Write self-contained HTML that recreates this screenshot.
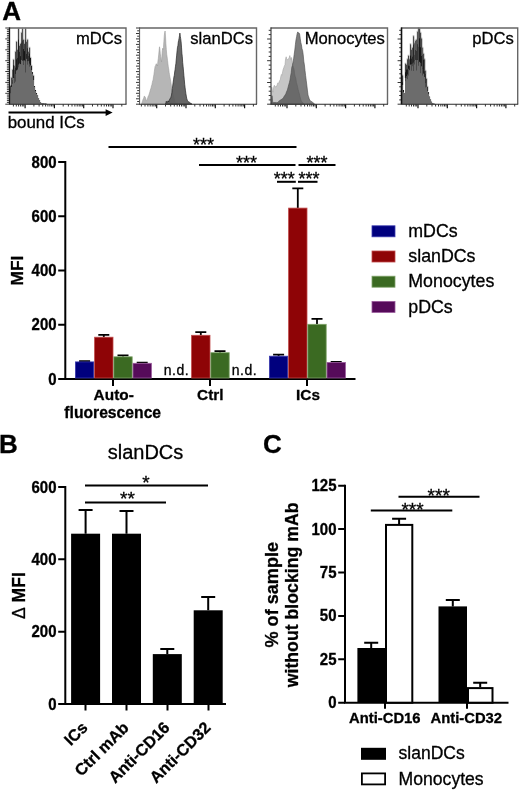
<!DOCTYPE html>
<html><head><meta charset="utf-8"><title>Figure</title>
<style>
html,body{margin:0;padding:0;background:#fff;}
body{width:520px;height:790px;overflow:hidden;}
svg{display:block;filter:blur(0.4px);}
svg text{font-family:"Liberation Sans",sans-serif;fill:#000;stroke:#000;stroke-width:0.3px;}
</style></head><body>
<svg width="520" height="790" viewBox="0 0 520 790">
<defs><filter id="b1" x="-5%" y="-5%" width="110%" height="110%"><feGaussianBlur stdDeviation="0.3"/></filter></defs>
<rect x="0" y="0" width="520" height="790" fill="#fff"/>
<path d="M25.1,104.2v4.0M54.4,104.2v4.0M83.7,104.2v4.0M113.0,104.2v4.0" stroke="#111" stroke-width="1.2" fill="none"/>
<path d="M13.4,104.2v2.3M16.3,104.2v2.3M18.6,104.2v2.3M20.6,104.2v2.3M22.3,104.2v2.3M23.8,104.2v2.3M33.9,104.2v2.3M39.1,104.2v2.3M42.7,104.2v2.3M45.6,104.2v2.3M47.9,104.2v2.3M49.9,104.2v2.3M51.6,104.2v2.3M53.1,104.2v2.3M63.2,104.2v2.3M68.4,104.2v2.3M72.0,104.2v2.3M74.9,104.2v2.3M77.2,104.2v2.3M79.2,104.2v2.3M80.9,104.2v2.3M82.4,104.2v2.3M92.5,104.2v2.3M97.7,104.2v2.3M101.3,104.2v2.3M104.2,104.2v2.3M106.5,104.2v2.3M108.5,104.2v2.3M110.2,104.2v2.3M111.7,104.2v2.3M121.8,104.2v2.3" stroke="#333" stroke-width="1.0" fill="none"/>
<path d="M9.5,104.2h-4.2M9.5,102.4h-2.6M9.5,100.6h-2.6M9.5,98.8h-2.6M9.5,96.9h-2.6M9.5,95.1h-2.6M9.5,93.3h-4.2M9.5,91.5h-2.6M9.5,89.7h-2.6M9.5,87.9h-2.6M9.5,86.1h-2.6M9.5,84.2h-2.6M9.5,82.4h-4.2M9.5,80.6h-2.6M9.5,78.8h-2.6M9.5,77.0h-2.6M9.5,75.2h-2.6M9.5,73.4h-2.6M9.5,71.5h-4.2M9.5,69.7h-2.6M9.5,67.9h-2.6M9.5,66.1h-2.6M9.5,64.3h-2.6M9.5,62.5h-2.6M9.5,60.7h-4.2M9.5,58.9h-2.6M9.5,57.0h-2.6M9.5,55.2h-2.6M9.5,53.4h-2.6M9.5,51.6h-2.6M9.5,49.8h-4.2M9.5,48.0h-2.6M9.5,46.2h-2.6M9.5,44.3h-2.6M9.5,42.5h-2.6M9.5,40.7h-2.6M9.5,38.9h-4.2M9.5,37.1h-2.6M9.5,35.3h-2.6M9.5,33.5h-2.6M9.5,31.6h-2.6M9.5,29.8h-2.6M9.5,28.0h-4.2" stroke="#2a2a2a" stroke-width="0.95" fill="none"/>
<path d="M156.7,104.2v4.0M186.0,104.2v4.0M215.3,104.2v4.0M244.6,104.2v4.0" stroke="#111" stroke-width="1.2" fill="none"/>
<path d="M141.4,104.2v2.3M145.0,104.2v2.3M147.9,104.2v2.3M150.2,104.2v2.3M152.2,104.2v2.3M153.9,104.2v2.3M155.4,104.2v2.3M165.5,104.2v2.3M170.7,104.2v2.3M174.3,104.2v2.3M177.2,104.2v2.3M179.5,104.2v2.3M181.5,104.2v2.3M183.2,104.2v2.3M184.7,104.2v2.3M194.8,104.2v2.3M200.0,104.2v2.3M203.6,104.2v2.3M206.5,104.2v2.3M208.8,104.2v2.3M210.8,104.2v2.3M212.5,104.2v2.3M214.0,104.2v2.3M224.1,104.2v2.3M229.3,104.2v2.3M232.9,104.2v2.3M235.8,104.2v2.3M238.1,104.2v2.3M240.1,104.2v2.3M241.8,104.2v2.3M243.3,104.2v2.3M253.4,104.2v2.3" stroke="#333" stroke-width="1.0" fill="none"/>
<path d="M139.6,104.2h-3.6M139.6,101.5h-2.4M139.6,98.8h-3.6M139.6,96.0h-2.4M139.6,93.3h-3.6M139.6,90.6h-2.4M139.6,87.9h-3.6M139.6,85.2h-2.4M139.6,82.4h-3.6M139.6,79.7h-2.4M139.6,77.0h-3.6M139.6,74.3h-2.4M139.6,71.6h-3.6M139.6,68.8h-2.4M139.6,66.1h-3.6M139.6,63.4h-2.4M139.6,60.7h-3.6M139.6,58.0h-2.4M139.6,55.2h-3.6M139.6,52.5h-2.4M139.6,49.8h-3.6M139.6,47.1h-2.4M139.6,44.4h-3.6M139.6,41.6h-2.4M139.6,38.9h-3.6M139.6,36.2h-2.4M139.6,33.5h-3.6M139.6,30.8h-2.4M139.6,28.0h-3.6" stroke="#2a2a2a" stroke-width="0.95" fill="none"/>
<path d="M287.0,104.2v4.0M316.3,104.2v4.0M345.6,104.2v4.0M374.9,104.2v4.0" stroke="#111" stroke-width="1.2" fill="none"/>
<path d="M275.3,104.2v2.3M278.2,104.2v2.3M280.5,104.2v2.3M282.5,104.2v2.3M284.2,104.2v2.3M285.7,104.2v2.3M295.8,104.2v2.3M301.0,104.2v2.3M304.6,104.2v2.3M307.5,104.2v2.3M309.8,104.2v2.3M311.8,104.2v2.3M313.5,104.2v2.3M315.0,104.2v2.3M325.1,104.2v2.3M330.3,104.2v2.3M333.9,104.2v2.3M336.8,104.2v2.3M339.1,104.2v2.3M341.1,104.2v2.3M342.8,104.2v2.3M344.3,104.2v2.3M354.4,104.2v2.3M359.6,104.2v2.3M363.2,104.2v2.3M366.1,104.2v2.3M368.4,104.2v2.3M370.4,104.2v2.3M372.1,104.2v2.3M373.6,104.2v2.3M383.7,104.2v2.3" stroke="#333" stroke-width="1.0" fill="none"/>
<path d="M271.0,104.2h-3.9M271.0,99.9h-2.3M271.0,95.5h-2.3M271.0,91.2h-2.3M271.0,86.8h-2.3M271.0,82.5h-3.9M271.0,78.1h-2.3M271.0,73.8h-2.3M271.0,69.4h-2.3M271.0,65.1h-2.3M271.0,60.7h-3.9M271.0,56.4h-2.3M271.0,52.0h-2.3M271.0,47.7h-2.3M271.0,43.3h-2.3M271.0,39.0h-3.9M271.0,34.6h-2.3M271.0,30.3h-2.3" stroke="#2a2a2a" stroke-width="0.95" fill="none"/>
<path d="M418.0,104.2v4.0M447.3,104.2v4.0M476.6,104.2v4.0M505.9,104.2v4.0" stroke="#111" stroke-width="1.2" fill="none"/>
<path d="M406.3,104.2v2.3M409.2,104.2v2.3M411.5,104.2v2.3M413.5,104.2v2.3M415.2,104.2v2.3M416.7,104.2v2.3M426.8,104.2v2.3M432.0,104.2v2.3M435.6,104.2v2.3M438.5,104.2v2.3M440.8,104.2v2.3M442.8,104.2v2.3M444.5,104.2v2.3M446.0,104.2v2.3M456.1,104.2v2.3M461.3,104.2v2.3M464.9,104.2v2.3M467.8,104.2v2.3M470.1,104.2v2.3M472.1,104.2v2.3M473.8,104.2v2.3M475.3,104.2v2.3M485.4,104.2v2.3M490.6,104.2v2.3M494.2,104.2v2.3M497.1,104.2v2.3M499.4,104.2v2.3M501.4,104.2v2.3M503.1,104.2v2.3M504.6,104.2v2.3M514.7,104.2v2.3" stroke="#333" stroke-width="1.0" fill="none"/>
<path d="M401.5,104.2h-3.9M401.5,99.9h-2.3M401.5,95.5h-2.3M401.5,91.2h-2.3M401.5,86.8h-2.3M401.5,82.5h-3.9M401.5,78.1h-2.3M401.5,73.8h-2.3M401.5,69.4h-2.3M401.5,65.1h-2.3M401.5,60.7h-3.9M401.5,56.4h-2.3M401.5,52.0h-2.3M401.5,47.7h-2.3M401.5,43.3h-2.3M401.5,39.0h-3.9M401.5,34.6h-2.3M401.5,30.3h-2.3" stroke="#2a2a2a" stroke-width="0.95" fill="none"/>
<g filter="url(#b1)">
<rect x="9.7" y="84.8" width="1.6" height="8.2" fill="#a6a6a6"/>
<rect x="10.7" y="76.8" width="1.6" height="11.2" fill="#a6a6a6"/>
<rect x="11.7" y="68.8" width="1.6" height="15.2" fill="#a6a6a6"/>
<rect x="12.7" y="58.8" width="1.6" height="20.2" fill="#a6a6a6"/>
<rect x="13.7" y="64.8" width="1.6" height="12.2" fill="#a6a6a6"/>
<rect x="14.7" y="50.8" width="1.6" height="23.2" fill="#a6a6a6"/>
<rect x="15.7" y="40.8" width="1.6" height="30.2" fill="#a6a6a6"/>
<rect x="16.7" y="48.8" width="1.6" height="20.2" fill="#a6a6a6"/>
<rect x="17.7" y="27.8" width="1.6" height="38.2" fill="#a6a6a6"/>
<rect x="18.7" y="44.8" width="1.6" height="19.2" fill="#a6a6a6"/>
<rect x="19.7" y="42.8" width="1.6" height="20.2" fill="#a6a6a6"/>
<rect x="20.7" y="31.8" width="1.6" height="29.2" fill="#a6a6a6"/>
<rect x="21.7" y="27.8" width="1.6" height="32.2" fill="#a6a6a6"/>
<rect x="22.7" y="38.8" width="1.6" height="20.7" fill="#a6a6a6"/>
<rect x="23.7" y="42.8" width="1.6" height="16.7" fill="#a6a6a6"/>
<rect x="24.7" y="27.8" width="1.6" height="32.2" fill="#a6a6a6"/>
<rect x="25.7" y="40.8" width="1.6" height="19.2" fill="#a6a6a6"/>
<rect x="26.7" y="38.8" width="1.6" height="21.2" fill="#a6a6a6"/>
<rect x="27.7" y="50.8" width="1.6" height="10.2" fill="#a6a6a6"/>
<rect x="28.7" y="46.8" width="1.6" height="16.2" fill="#a6a6a6"/>
<rect x="29.7" y="56.8" width="1.6" height="9.2" fill="#a6a6a6"/>
<rect x="30.7" y="64.8" width="1.6" height="5.2" fill="#a6a6a6"/>
<rect x="32.7" y="74.8" width="1.6" height="5.2" fill="#a6a6a6"/>
<rect x="10.0" y="86.0" width="1.05" height="18.2" fill="#444444"/>
<rect x="11.0" y="78.0" width="1.05" height="26.2" fill="#262626"/>
<rect x="11.6" y="78.0" width="0.5" height="7.0" fill="#8a8a8a"/>
<rect x="12.0" y="70.0" width="1.05" height="34.2" fill="#444444"/>
<rect x="12.6" y="70.0" width="0.5" height="10.0" fill="#8a8a8a"/>
<rect x="13.0" y="60.0" width="1.05" height="44.2" fill="#1e1e1e"/>
<rect x="13.6" y="60.0" width="0.5" height="5.2" fill="#8a8a8a"/>
<rect x="14.0" y="66.0" width="1.05" height="38.2" fill="#444444"/>
<rect x="14.6" y="66.0" width="0.5" height="3.9" fill="#8a8a8a"/>
<rect x="15.0" y="52.0" width="1.05" height="52.2" fill="#262626"/>
<rect x="15.6" y="52.0" width="0.5" height="15.6" fill="#8a8a8a"/>
<rect x="16.0" y="42.0" width="1.05" height="62.2" fill="#1e1e1e"/>
<rect x="16.6" y="42.0" width="0.5" height="17.3" fill="#8a8a8a"/>
<rect x="17.0" y="50.0" width="1.05" height="54.2" fill="#262626"/>
<rect x="17.6" y="50.0" width="0.5" height="7.9" fill="#8a8a8a"/>
<rect x="18.0" y="29.0" width="1.05" height="75.2" fill="#1e1e1e"/>
<rect x="18.6" y="29.0" width="0.5" height="10.6" fill="#8a8a8a"/>
<rect x="19.0" y="46.0" width="1.05" height="58.2" fill="#262626"/>
<rect x="19.6" y="46.0" width="0.5" height="5.9" fill="#8a8a8a"/>
<rect x="20.0" y="44.0" width="1.05" height="60.2" fill="#1e1e1e"/>
<rect x="20.6" y="44.0" width="0.5" height="12.1" fill="#8a8a8a"/>
<rect x="21.0" y="33.0" width="1.05" height="71.2" fill="#343434"/>
<rect x="21.6" y="33.0" width="0.5" height="9.7" fill="#8a8a8a"/>
<rect x="22.0" y="29.0" width="1.05" height="75.2" fill="#343434"/>
<rect x="22.6" y="29.0" width="0.5" height="11.5" fill="#8a8a8a"/>
<rect x="23.0" y="40.0" width="1.05" height="64.2" fill="#1e1e1e"/>
<rect x="23.6" y="40.0" width="0.5" height="9.0" fill="#8a8a8a"/>
<rect x="24.0" y="44.0" width="1.05" height="60.2" fill="#161616"/>
<rect x="24.6" y="44.0" width="0.5" height="7.2" fill="#8a8a8a"/>
<rect x="25.0" y="29.0" width="1.05" height="75.2" fill="#343434"/>
<rect x="25.6" y="29.0" width="0.5" height="11.0" fill="#8a8a8a"/>
<rect x="26.0" y="42.0" width="1.05" height="62.2" fill="#2c2c2c"/>
<rect x="26.6" y="42.0" width="0.5" height="11.9" fill="#8a8a8a"/>
<rect x="27.0" y="40.0" width="1.05" height="64.2" fill="#2c2c2c"/>
<rect x="27.6" y="40.0" width="0.5" height="8.3" fill="#8a8a8a"/>
<rect x="28.0" y="52.0" width="1.05" height="52.2" fill="#343434"/>
<rect x="28.6" y="52.0" width="0.5" height="4.0" fill="#8a8a8a"/>
<rect x="29.0" y="48.0" width="1.05" height="56.2" fill="#1e1e1e"/>
<rect x="29.6" y="48.0" width="0.5" height="5.5" fill="#8a8a8a"/>
<rect x="30.0" y="58.0" width="1.05" height="46.2" fill="#161616"/>
<rect x="31.0" y="66.0" width="1.05" height="38.2" fill="#1e1e1e"/>
<rect x="32.0" y="72.0" width="1.05" height="32.2" fill="#2c2c2c"/>
<rect x="33.0" y="76.0" width="1.05" height="28.2" fill="#2c2c2c"/>
<rect x="34.0" y="86.0" width="1.05" height="18.2" fill="#1e1e1e"/>
<rect x="35.0" y="90.0" width="1.05" height="14.2" fill="#161616"/>
<rect x="36.0" y="93.0" width="1.05" height="11.2" fill="#1e1e1e"/>
<rect x="37.0" y="95.0" width="1.05" height="9.2" fill="#262626"/>
<rect x="38.0" y="98.0" width="1.05" height="6.2" fill="#444444"/>
<rect x="39.0" y="100.0" width="1.05" height="4.2" fill="#161616"/>
<rect x="40.0" y="102.0" width="1.05" height="2.2" fill="#343434"/>
<rect x="41.0" y="103.0" width="1.05" height="1.2" fill="#161616"/>
<rect x="42.0" y="103.4" width="1.05" height="0.8" fill="#343434"/>
<rect x="43.0" y="103.4" width="1.05" height="0.8" fill="#2c2c2c"/>
<rect x="44.0" y="103.6" width="1.05" height="0.6" fill="#343434"/>
<rect x="45.0" y="103.6" width="1.05" height="0.6" fill="#161616"/>
<rect x="46.0" y="103.8" width="1.05" height="0.4" fill="#343434"/>
<rect x="10.0" y="93.2" width="1.05" height="11.0" fill="#6c6c6c"/>
<rect x="11.0" y="87.0" width="1.05" height="17.2" fill="#6c6c6c"/>
<rect x="12.0" y="82.6" width="1.05" height="21.6" fill="#6c6c6c"/>
<rect x="12.2" y="82.1" width="0.7" height="1.9" fill="#222" fill-opacity="0.6"/>
<rect x="13.0" y="78.0" width="1.05" height="26.2" fill="#6c6c6c"/>
<rect x="14.0" y="77.7" width="1.05" height="26.5" fill="#6c6c6c"/>
<rect x="14.2" y="77.2" width="0.7" height="5.9" fill="#222" fill-opacity="0.6"/>
<rect x="15.0" y="73.9" width="1.05" height="30.3" fill="#6c6c6c"/>
<rect x="15.2" y="73.4" width="0.7" height="8.2" fill="#222" fill-opacity="0.6"/>
<rect x="16.0" y="70.4" width="1.05" height="33.8" fill="#6c6c6c"/>
<rect x="17.0" y="69.6" width="1.05" height="34.6" fill="#6c6c6c"/>
<rect x="18.0" y="64.5" width="1.05" height="39.7" fill="#6c6c6c"/>
<rect x="18.2" y="64.0" width="0.7" height="3.3" fill="#222" fill-opacity="0.6"/>
<rect x="19.0" y="63.5" width="1.05" height="40.7" fill="#6c6c6c"/>
<rect x="20.0" y="64.1" width="1.05" height="40.1" fill="#6c6c6c"/>
<rect x="21.0" y="59.9" width="1.05" height="44.3" fill="#6c6c6c"/>
<rect x="22.0" y="60.8" width="1.05" height="43.4" fill="#6c6c6c"/>
<rect x="23.0" y="60.4" width="1.05" height="43.8" fill="#6c6c6c"/>
<rect x="23.2" y="59.9" width="0.7" height="5.1" fill="#222" fill-opacity="0.6"/>
<rect x="24.0" y="60.4" width="1.05" height="43.8" fill="#6c6c6c"/>
<rect x="25.0" y="61.2" width="1.05" height="43.0" fill="#6c6c6c"/>
<rect x="25.2" y="60.7" width="0.7" height="11.8" fill="#222" fill-opacity="0.6"/>
<rect x="26.0" y="58.9" width="1.05" height="45.3" fill="#6c6c6c"/>
<rect x="27.0" y="61.2" width="1.05" height="43.0" fill="#6c6c6c"/>
<rect x="27.2" y="60.7" width="0.7" height="3.9" fill="#222" fill-opacity="0.6"/>
<rect x="28.0" y="61.1" width="1.05" height="43.1" fill="#6c6c6c"/>
<rect x="29.0" y="63.6" width="1.05" height="40.6" fill="#6c6c6c"/>
<rect x="29.2" y="63.1" width="0.7" height="3.6" fill="#222" fill-opacity="0.6"/>
<rect x="30.0" y="65.3" width="1.05" height="38.9" fill="#6c6c6c"/>
<rect x="31.0" y="70.0" width="1.05" height="34.2" fill="#6c6c6c"/>
<rect x="32.0" y="74.0" width="1.05" height="30.2" fill="#6c6c6c"/>
<rect x="33.0" y="80.0" width="1.05" height="24.2" fill="#6c6c6c"/>
<rect x="34.0" y="87.0" width="1.05" height="17.2" fill="#6c6c6c"/>
<rect x="35.0" y="91.0" width="1.05" height="13.2" fill="#6c6c6c"/>
<rect x="36.0" y="94.0" width="1.05" height="10.2" fill="#6c6c6c"/>
<rect x="37.0" y="95.0" width="1.05" height="9.2" fill="#6c6c6c"/>
<rect x="38.0" y="98.0" width="1.05" height="6.2" fill="#6c6c6c"/>
<rect x="39.0" y="100.0" width="1.05" height="4.2" fill="#6c6c6c"/>
<rect x="40.0" y="102.0" width="1.05" height="2.2" fill="#6c6c6c"/>
<rect x="41.0" y="103.0" width="1.05" height="1.2" fill="#6c6c6c"/>
<rect x="42.0" y="103.4" width="1.05" height="0.8" fill="#6c6c6c"/>
<rect x="43.0" y="103.4" width="1.05" height="0.8" fill="#6c6c6c"/>
<rect x="44.0" y="103.6" width="1.05" height="0.6" fill="#6c6c6c"/>
<rect x="45.0" y="103.6" width="1.05" height="0.6" fill="#6c6c6c"/>
<rect x="46.0" y="103.8" width="1.05" height="0.4" fill="#6c6c6c"/>
</g>
<path d="M141.5,104.2 L141.5,104.2 L141.9,102.9 L142.3,101.7 L142.7,100.4 L143.1,99.2 L143.5,98.5 L143.9,97.4 L144.3,96.1 L144.7,96.4 L145.1,97.0 L145.5,97.7 L145.9,99.2 L146.3,100.7 L146.7,100.5 L147.1,99.8 L147.5,98.4 L147.9,97.3 L148.3,96.1 L148.7,95.6 L149.1,94.2 L149.5,93.1 L149.9,91.8 L150.3,90.1 L150.7,89.1 L151.1,87.8 L151.5,85.8 L151.9,84.9 L152.3,82.7 L152.7,80.9 L153.1,80.0 L153.5,76.7 L153.9,74.9 L154.3,71.6 L154.7,68.9 L155.1,66.4 L155.5,65.9 L155.9,64.7 L156.3,63.7 L156.7,65.3 L157.1,64.8 L157.5,66.0 L157.9,61.4 L158.3,58.8 L158.7,54.9 L159.1,50.8 L159.5,46.8 L159.9,49.0 L160.3,53.9 L160.7,56.9 L161.1,59.5 L161.5,62.0 L161.9,56.3 L162.3,50.7 L162.7,48.3 L163.1,49.6 L163.5,47.4 L163.9,41.3 L164.3,35.5 L164.7,32.4 L165.1,31.0 L165.5,36.2 L165.9,43.8 L166.3,49.4 L166.7,54.2 L167.1,57.0 L167.5,60.3 L167.9,63.6 L168.3,66.9 L168.7,69.0 L169.1,72.4 L169.5,74.8 L169.9,77.1 L170.3,78.9 L170.7,81.3 L171.1,84.0 L171.5,87.0 L171.9,88.7 L172.3,91.0 L172.7,92.8 L173.1,94.4 L173.5,95.7 L173.9,97.6 L174.3,98.9 L174.7,100.0 L175.1,101.6 L175.5,102.7 L175.9,103.0 L176.3,103.5 L176.7,103.9 L176.7,104.2 Z" fill="#b6b6b6" stroke="#9c9c9c" stroke-width="0.6"/>
<path d="M165.5,104.2 L165.5,104.2 L165.9,102.8 L166.3,101.2 L166.7,102.4 L167.1,102.8 L167.5,101.9 L167.9,100.9 L168.3,101.0 L168.7,102.0 L169.1,100.7 L169.5,99.7 L169.9,98.7 L170.3,98.7 L170.7,98.0 L171.1,96.4 L171.5,95.1 L171.9,92.5 L172.3,88.6 L172.7,86.0 L173.1,82.8 L173.5,79.9 L173.9,77.1 L174.3,75.3 L174.7,72.0 L175.1,69.5 L175.5,66.2 L175.9,63.5 L176.3,59.0 L176.7,55.1 L177.1,50.8 L177.5,47.2 L177.9,45.8 L178.3,42.0 L178.7,40.3 L179.1,38.2 L179.5,35.6 L179.9,33.1 L180.3,36.3 L180.7,38.7 L181.1,41.9 L181.5,47.1 L181.9,53.2 L182.3,56.8 L182.7,62.7 L183.1,66.6 L183.5,71.1 L183.9,75.5 L184.3,79.9 L184.7,84.3 L185.1,87.8 L185.5,90.9 L185.9,93.7 L186.3,96.1 L186.7,98.3 L187.1,99.5 L187.5,100.6 L187.9,101.5 L188.3,101.7 L188.7,101.7 L189.1,102.4 L189.5,102.3 L189.9,102.6 L190.3,102.9 L190.7,103.1 L191.1,103.5 L191.5,103.8 L191.9,104.1 L191.9,104.2 Z" fill="#5a5a5a" fill-opacity="0.93" stroke="#262626" stroke-width="0.7"/>
<path d="M271.2,104.2 L271.2,104.2 L271.8,87.2 L272.4,90.8 L273.0,92.2 L273.6,87.6 L274.2,85.3 L274.8,85.8 L275.4,87.2 L276.0,86.3 L276.6,86.3 L277.2,85.0 L277.8,82.9 L278.4,83.2 L279.0,82.4 L279.6,80.6 L280.2,80.4 L280.8,76.5 L281.4,74.5 L282.0,75.2 L282.6,71.9 L283.2,69.3 L283.8,67.7 L284.4,65.9 L285.0,64.7 L285.6,58.7 L286.2,56.8 L286.8,59.5 L287.4,59.6 L288.0,59.3 L288.6,58.8 L289.2,57.8 L289.8,55.6 L290.4,58.1 L291.0,59.8 L291.6,57.5 L292.2,61.8 L292.8,65.3 L293.4,67.5 L294.0,69.1 L294.6,73.9 L295.2,76.6 L295.8,78.2 L296.4,82.3 L297.0,84.4 L297.6,86.9 L298.2,89.7 L298.8,91.9 L299.4,94.1 L300.0,96.6 L300.6,99.0 L301.2,100.8 L301.8,101.7 L302.4,102.5 L303.0,102.8 L303.6,103.6 L303.6,104.2 Z" fill="#c6c6c6" stroke="#a4a4a4" stroke-width="0.6"/>
<path d="M271.4,104.2 L271.4,104.2 L272.0,95.7 L272.6,101.4 L273.2,102.8 L273.8,102.5 L274.4,102.6 L275.0,102.2 L275.6,102.5 L276.2,102.7 L276.8,102.5 L277.4,102.6 L278.0,102.2 L278.6,101.4 L279.2,100.7 L279.8,100.9 L280.4,100.0 L281.0,99.4 L281.6,99.4 L282.2,98.9 L282.8,98.3 L283.4,97.9 L284.0,96.6 L284.6,95.8 L285.2,94.6 L285.8,94.2 L286.4,92.1 L287.0,90.9 L287.6,89.2 L288.2,86.9 L288.8,84.5 L289.4,82.5 L290.0,79.9 L290.6,75.9 L291.2,72.9 L291.8,67.3 L292.4,65.6 L293.0,62.4 L293.6,58.9 L294.2,54.3 L294.8,50.0 L295.4,44.6 L296.0,39.8 L296.6,36.7 L297.2,33.4 L297.8,31.9 L298.4,33.1 L299.0,32.9 L299.6,34.0 L300.2,38.3 L300.8,42.5 L301.4,44.7 L302.0,48.8 L302.6,50.5 L303.2,54.7 L303.8,61.2 L304.4,64.9 L305.0,70.5 L305.6,75.6 L306.2,80.3 L306.8,85.1 L307.4,90.1 L308.0,95.1 L308.6,96.7 L309.2,98.8 L309.8,100.1 L310.4,100.9 L311.0,101.3 L311.6,101.6 L312.2,102.0 L312.8,102.5 L313.4,103.0 L314.0,103.5 L314.6,104.0 L314.6,104.2 Z" fill="#3a3a3a" fill-opacity="0.66" stroke="#4a4a4a" stroke-width="0.6"/>
<g filter="url(#b1)">
<rect x="401.7" y="74.6" width="1.6" height="10.4" fill="#a6a6a6"/>
<rect x="404.7" y="62.8" width="1.6" height="15.2" fill="#a6a6a6"/>
<rect x="405.7" y="63.8" width="1.6" height="12.2" fill="#a6a6a6"/>
<rect x="406.7" y="58.4" width="1.6" height="14.6" fill="#a6a6a6"/>
<rect x="407.7" y="54.8" width="1.6" height="15.2" fill="#a6a6a6"/>
<rect x="408.7" y="58.4" width="1.6" height="10.6" fill="#a6a6a6"/>
<rect x="409.7" y="43.4" width="1.6" height="22.6" fill="#a6a6a6"/>
<rect x="410.7" y="48.8" width="1.6" height="16.2" fill="#a6a6a6"/>
<rect x="411.7" y="46.8" width="1.6" height="16.2" fill="#a6a6a6"/>
<rect x="412.7" y="35.3" width="1.6" height="26.7" fill="#a6a6a6"/>
<rect x="413.7" y="42.3" width="1.6" height="19.7" fill="#a6a6a6"/>
<rect x="414.7" y="39.8" width="1.6" height="21.2" fill="#a6a6a6"/>
<rect x="415.7" y="38.8" width="1.6" height="22.2" fill="#a6a6a6"/>
<rect x="416.7" y="30.8" width="1.6" height="30.2" fill="#a6a6a6"/>
<rect x="417.7" y="27.4" width="1.6" height="34.6" fill="#a6a6a6"/>
<rect x="418.7" y="27.8" width="1.6" height="35.2" fill="#a6a6a6"/>
<rect x="419.7" y="31.8" width="1.6" height="32.2" fill="#a6a6a6"/>
<rect x="420.7" y="37.6" width="1.6" height="28.4" fill="#a6a6a6"/>
<rect x="421.7" y="46.8" width="1.6" height="22.2" fill="#a6a6a6"/>
<rect x="422.7" y="52.8" width="1.6" height="20.2" fill="#a6a6a6"/>
<rect x="423.7" y="58.4" width="1.6" height="18.6" fill="#a6a6a6"/>
<rect x="424.7" y="69.8" width="1.6" height="12.2" fill="#a6a6a6"/>
<rect x="425.7" y="77.8" width="1.6" height="9.2" fill="#a6a6a6"/>
<rect x="426.7" y="85.8" width="1.6" height="5.2" fill="#a6a6a6"/>
<rect x="402.0" y="75.8" width="1.05" height="28.4" fill="#161616"/>
<rect x="402.6" y="75.8" width="0.5" height="6.6" fill="#8a8a8a"/>
<rect x="403.0" y="90.0" width="1.05" height="14.2" fill="#161616"/>
<rect x="404.0" y="93.0" width="1.05" height="11.2" fill="#444444"/>
<rect x="405.0" y="64.0" width="1.05" height="40.2" fill="#161616"/>
<rect x="405.6" y="64.0" width="0.5" height="8.3" fill="#8a8a8a"/>
<rect x="406.0" y="65.0" width="1.05" height="39.2" fill="#161616"/>
<rect x="406.6" y="65.0" width="0.5" height="4.6" fill="#8a8a8a"/>
<rect x="407.0" y="59.6" width="1.05" height="44.6" fill="#1e1e1e"/>
<rect x="407.6" y="59.6" width="0.5" height="9.8" fill="#8a8a8a"/>
<rect x="408.0" y="56.0" width="1.05" height="48.2" fill="#161616"/>
<rect x="408.6" y="56.0" width="0.5" height="9.7" fill="#8a8a8a"/>
<rect x="409.0" y="59.6" width="1.05" height="44.6" fill="#2c2c2c"/>
<rect x="409.6" y="59.6" width="0.5" height="6.3" fill="#8a8a8a"/>
<rect x="410.0" y="44.6" width="1.05" height="59.6" fill="#161616"/>
<rect x="410.6" y="44.6" width="0.5" height="11.0" fill="#8a8a8a"/>
<rect x="411.0" y="50.0" width="1.05" height="54.2" fill="#262626"/>
<rect x="411.6" y="50.0" width="0.5" height="8.7" fill="#8a8a8a"/>
<rect x="412.0" y="48.0" width="1.05" height="56.2" fill="#2c2c2c"/>
<rect x="412.6" y="48.0" width="0.5" height="8.7" fill="#8a8a8a"/>
<rect x="413.0" y="36.5" width="1.05" height="67.7" fill="#262626"/>
<rect x="413.6" y="36.5" width="0.5" height="8.2" fill="#8a8a8a"/>
<rect x="414.0" y="43.5" width="1.05" height="60.7" fill="#444444"/>
<rect x="414.6" y="43.5" width="0.5" height="11.4" fill="#8a8a8a"/>
<rect x="415.0" y="41.0" width="1.05" height="63.2" fill="#343434"/>
<rect x="415.6" y="41.0" width="0.5" height="9.1" fill="#8a8a8a"/>
<rect x="416.0" y="40.0" width="1.05" height="64.2" fill="#343434"/>
<rect x="416.6" y="40.0" width="0.5" height="11.1" fill="#8a8a8a"/>
<rect x="417.0" y="32.0" width="1.05" height="72.2" fill="#343434"/>
<rect x="417.6" y="32.0" width="0.5" height="12.2" fill="#8a8a8a"/>
<rect x="418.0" y="28.6" width="1.05" height="75.6" fill="#444444"/>
<rect x="418.6" y="28.6" width="0.5" height="18.2" fill="#8a8a8a"/>
<rect x="419.0" y="29.0" width="1.05" height="75.2" fill="#161616"/>
<rect x="419.6" y="29.0" width="0.5" height="9.4" fill="#8a8a8a"/>
<rect x="420.0" y="33.0" width="1.05" height="71.2" fill="#161616"/>
<rect x="420.6" y="33.0" width="0.5" height="14.3" fill="#8a8a8a"/>
<rect x="421.0" y="38.8" width="1.05" height="65.4" fill="#1e1e1e"/>
<rect x="421.6" y="38.8" width="0.5" height="17.2" fill="#8a8a8a"/>
<rect x="422.0" y="48.0" width="1.05" height="56.2" fill="#444444"/>
<rect x="422.6" y="48.0" width="0.5" height="7.0" fill="#8a8a8a"/>
<rect x="423.0" y="54.0" width="1.05" height="50.2" fill="#1e1e1e"/>
<rect x="423.6" y="54.0" width="0.5" height="5.8" fill="#8a8a8a"/>
<rect x="424.0" y="59.6" width="1.05" height="44.6" fill="#262626"/>
<rect x="424.6" y="59.6" width="0.5" height="11.6" fill="#8a8a8a"/>
<rect x="425.0" y="71.0" width="1.05" height="33.2" fill="#343434"/>
<rect x="425.6" y="71.0" width="0.5" height="2.9" fill="#8a8a8a"/>
<rect x="426.0" y="79.0" width="1.05" height="25.2" fill="#444444"/>
<rect x="427.0" y="87.0" width="1.05" height="17.2" fill="#343434"/>
<rect x="428.0" y="92.0" width="1.05" height="12.2" fill="#343434"/>
<rect x="429.0" y="96.5" width="1.05" height="7.7" fill="#2c2c2c"/>
<rect x="430.0" y="99.4" width="1.05" height="4.8" fill="#343434"/>
<rect x="431.0" y="101.7" width="1.05" height="2.5" fill="#2c2c2c"/>
<rect x="432.0" y="103.3" width="1.05" height="0.9" fill="#262626"/>
<rect x="433.0" y="103.6" width="1.05" height="0.6" fill="#1e1e1e"/>
<rect x="434.0" y="103.8" width="1.05" height="0.4" fill="#262626"/>
<rect x="402.0" y="84.9" width="1.05" height="19.3" fill="#6c6c6c"/>
<rect x="403.0" y="92.0" width="1.05" height="12.2" fill="#6c6c6c"/>
<rect x="404.0" y="93.0" width="1.05" height="11.2" fill="#6c6c6c"/>
<rect x="405.0" y="77.8" width="1.05" height="26.4" fill="#6c6c6c"/>
<rect x="405.2" y="77.3" width="0.7" height="3.8" fill="#222" fill-opacity="0.6"/>
<rect x="406.0" y="76.1" width="1.05" height="28.1" fill="#6c6c6c"/>
<rect x="406.2" y="75.6" width="0.7" height="2.6" fill="#222" fill-opacity="0.6"/>
<rect x="407.0" y="74.5" width="1.05" height="29.7" fill="#6c6c6c"/>
<rect x="407.2" y="74.0" width="0.7" height="5.1" fill="#222" fill-opacity="0.6"/>
<rect x="408.0" y="68.8" width="1.05" height="35.4" fill="#6c6c6c"/>
<rect x="408.2" y="68.3" width="0.7" height="7.3" fill="#222" fill-opacity="0.6"/>
<rect x="409.0" y="70.2" width="1.05" height="34.0" fill="#6c6c6c"/>
<rect x="410.0" y="64.6" width="1.05" height="39.6" fill="#6c6c6c"/>
<rect x="411.0" y="64.3" width="1.05" height="39.9" fill="#6c6c6c"/>
<rect x="411.2" y="63.8" width="0.7" height="6.9" fill="#222" fill-opacity="0.6"/>
<rect x="412.0" y="63.5" width="1.05" height="40.7" fill="#6c6c6c"/>
<rect x="412.2" y="63.0" width="0.7" height="3.2" fill="#222" fill-opacity="0.6"/>
<rect x="413.0" y="62.6" width="1.05" height="41.6" fill="#6c6c6c"/>
<rect x="413.2" y="62.1" width="0.7" height="8.9" fill="#222" fill-opacity="0.6"/>
<rect x="414.0" y="60.8" width="1.05" height="43.4" fill="#6c6c6c"/>
<rect x="414.2" y="60.3" width="0.7" height="4.2" fill="#222" fill-opacity="0.6"/>
<rect x="415.0" y="59.9" width="1.05" height="44.3" fill="#6c6c6c"/>
<rect x="416.0" y="59.9" width="1.05" height="44.3" fill="#6c6c6c"/>
<rect x="416.2" y="59.4" width="0.7" height="11.1" fill="#222" fill-opacity="0.6"/>
<rect x="417.0" y="60.1" width="1.05" height="44.1" fill="#6c6c6c"/>
<rect x="418.0" y="62.5" width="1.05" height="41.7" fill="#6c6c6c"/>
<rect x="418.2" y="62.0" width="0.7" height="3.8" fill="#222" fill-opacity="0.6"/>
<rect x="419.0" y="61.8" width="1.05" height="42.4" fill="#6c6c6c"/>
<rect x="420.0" y="62.9" width="1.05" height="41.3" fill="#6c6c6c"/>
<rect x="420.2" y="62.4" width="0.7" height="10.7" fill="#222" fill-opacity="0.6"/>
<rect x="421.0" y="66.3" width="1.05" height="37.9" fill="#6c6c6c"/>
<rect x="422.0" y="68.9" width="1.05" height="35.3" fill="#6c6c6c"/>
<rect x="422.2" y="68.4" width="0.7" height="7.1" fill="#222" fill-opacity="0.6"/>
<rect x="423.0" y="73.6" width="1.05" height="30.6" fill="#6c6c6c"/>
<rect x="424.0" y="76.9" width="1.05" height="27.3" fill="#6c6c6c"/>
<rect x="425.0" y="83.1" width="1.05" height="21.1" fill="#6c6c6c"/>
<rect x="425.2" y="82.6" width="0.7" height="4.8" fill="#222" fill-opacity="0.6"/>
<rect x="426.0" y="86.8" width="1.05" height="17.4" fill="#6c6c6c"/>
<rect x="427.0" y="91.0" width="1.05" height="13.2" fill="#6c6c6c"/>
<rect x="428.0" y="94.0" width="1.05" height="10.2" fill="#6c6c6c"/>
<rect x="429.0" y="97.0" width="1.05" height="7.2" fill="#6c6c6c"/>
<rect x="430.0" y="99.6" width="1.05" height="4.6" fill="#6c6c6c"/>
<rect x="431.0" y="101.8" width="1.05" height="2.4" fill="#6c6c6c"/>
<rect x="432.0" y="103.3" width="1.05" height="0.9" fill="#6c6c6c"/>
<rect x="433.0" y="103.6" width="1.05" height="0.6" fill="#6c6c6c"/>
<rect x="434.0" y="103.8" width="1.05" height="0.4" fill="#6c6c6c"/>
</g>
<path d="M9.0,28.0 H126.0 V104.2" stroke="#666" stroke-width="1.4" fill="none"/>
<path d="M9.5,27.5 V104.2" stroke="#1a1a1a" stroke-width="1.3" fill="none"/>
<path d="M9.0,104.2 H126.5" stroke="#2a2a2a" stroke-width="1.1" fill="none"/>
<path d="M139.1,28.0 H256.5 V104.2" stroke="#666" stroke-width="1.4" fill="none"/>
<path d="M139.6,27.5 V104.2" stroke="#555" stroke-width="1.0" fill="none"/>
<path d="M139.1,104.2 H257.0" stroke="#2a2a2a" stroke-width="1.1" fill="none"/>
<path d="M270.5,28.0 H387.5 V104.2" stroke="#666" stroke-width="1.4" fill="none"/>
<path d="M271.0,27.5 V104.2" stroke="#333" stroke-width="1.1" fill="none"/>
<path d="M270.5,104.2 H388.0" stroke="#2a2a2a" stroke-width="1.1" fill="none"/>
<path d="M401.0,28.0 H517.7 V104.2" stroke="#666" stroke-width="1.4" fill="none"/>
<path d="M401.5,27.5 V104.2" stroke="#111" stroke-width="1.6" fill="none"/>
<path d="M401.0,104.2 H518.2" stroke="#2a2a2a" stroke-width="1.1" fill="none"/>
<text transform="translate(122.1 43.8) scale(1 1.030)" font-size="16.6" text-anchor="end">mDCs</text>
<text transform="translate(253.0 43.8) scale(1 1.030)" font-size="16.6" text-anchor="end">slanDCs</text>
<text transform="translate(384.9 43.8) scale(1 1.030)" font-size="16.6" text-anchor="end">Monocytes</text>
<text transform="translate(513.8 43.8) scale(1 1.030)" font-size="16.6" text-anchor="end">pDCs</text>
<text x="2.2" y="19.6" font-size="26.0" font-weight="bold" text-anchor="start" >A</text>
<path d="M8.5,112.6 H107" stroke="#000" stroke-width="2"/>
<path d="M105.6,109.3 L112.6,112.6 L105.6,115.9 Z" fill="#000"/>
<text x="7.7" y="128.0" font-size="16.9" font-weight="normal" text-anchor="start" >bound ICs</text>
<path d="M65.3,161.0 V379.0 H355.5" stroke="#000" stroke-width="2" fill="none"/>
<path d="M58.2,379.0H65.3M58.2,324.8H65.3M58.2,270.5H65.3M58.2,216.2H65.3M58.2,162.0H65.3M113,379.0v7M210,379.0v7M307,379.0v7" stroke="#000" stroke-width="2" fill="none"/>
<text transform="translate(56.6 384.7) scale(1 1.090)" font-size="15.0" font-weight="bold" text-anchor="end">0</text>
<text transform="translate(56.6 330.4) scale(1 1.090)" font-size="15.0" font-weight="bold" text-anchor="end">200</text>
<text transform="translate(56.6 276.2) scale(1 1.090)" font-size="15.0" font-weight="bold" text-anchor="end">400</text>
<text transform="translate(56.6 221.9) scale(1 1.090)" font-size="15.0" font-weight="bold" text-anchor="end">600</text>
<text transform="translate(56.6 167.7) scale(1 1.090)" font-size="15.0" font-weight="bold" text-anchor="end">800</text>
<text x="22.6" y="270.6" font-size="17.3" font-weight="bold" text-anchor="middle" transform="rotate(-90 22.6 270.6)">MFI</text>
<path d="M84.6,361.9V361.2 M79.1,361.2H90.1" stroke="#000" stroke-width="1.8" fill="none"/>
<rect x="75.4" y="361.9" width="18.4" height="16.1" fill="#00007e" stroke="#3a3ab0" stroke-width="0.8"/>
<path d="M103.8,337.2V334.8 M98.3,334.8H109.3" stroke="#000" stroke-width="1.8" fill="none"/>
<rect x="94.6" y="337.2" width="18.4" height="40.8" fill="#8e0406" stroke="#c04a4a" stroke-width="0.8"/>
<path d="M123.0,356.8V355.4 M117.5,355.4H128.5" stroke="#000" stroke-width="1.8" fill="none"/>
<rect x="113.8" y="356.8" width="18.4" height="21.2" fill="#3b6a22" stroke="#7fa36a" stroke-width="0.8"/>
<path d="M142.2,363.3V362.6 M136.7,362.6H147.7" stroke="#000" stroke-width="1.8" fill="none"/>
<rect x="133.0" y="363.3" width="18.4" height="14.7" fill="#560b5a" stroke="#9a5a9c" stroke-width="0.8"/>
<path d="M200.8,335.3V332.2 M195.3,332.2H206.3" stroke="#000" stroke-width="1.8" fill="none"/>
<rect x="191.6" y="335.3" width="18.4" height="42.7" fill="#8e0406" stroke="#c04a4a" stroke-width="0.8"/>
<path d="M220.0,352.7V351.1 M214.5,351.1H225.5" stroke="#000" stroke-width="1.8" fill="none"/>
<rect x="210.8" y="352.7" width="18.4" height="25.3" fill="#3b6a22" stroke="#7fa36a" stroke-width="0.8"/>
<path d="M278.6,356.2V354.7 M273.1,354.7H284.1" stroke="#000" stroke-width="1.8" fill="none"/>
<rect x="269.4" y="356.2" width="18.4" height="21.8" fill="#00007e" stroke="#3a3ab0" stroke-width="0.8"/>
<path d="M297.8,208.1V188.3 M292.3,188.3H303.3" stroke="#000" stroke-width="1.8" fill="none"/>
<rect x="288.6" y="208.1" width="18.4" height="169.9" fill="#8e0406" stroke="#c04a4a" stroke-width="0.8"/>
<path d="M317.0,324.3V318.9 M311.5,318.9H322.5" stroke="#000" stroke-width="1.8" fill="none"/>
<rect x="307.8" y="324.3" width="18.4" height="53.7" fill="#3b6a22" stroke="#7fa36a" stroke-width="0.8"/>
<path d="M336.2,362.5V361.8 M330.7,361.8H341.7" stroke="#000" stroke-width="1.8" fill="none"/>
<rect x="327.0" y="362.5" width="18.4" height="15.5" fill="#560b5a" stroke="#9a5a9c" stroke-width="0.8"/>
<text x="176.4" y="375.4" font-size="14.0" font-weight="normal" text-anchor="middle" fill="#111" letter-spacing="0.5">n.d.</text>
<text x="244.4" y="375.4" font-size="14.0" font-weight="normal" text-anchor="middle" fill="#111" letter-spacing="0.5">n.d.</text>
<text x="113.7" y="399.5" font-size="15.4" font-weight="bold" text-anchor="middle" >Auto-</text>
<text x="112.7" y="417.7" font-size="15.7" font-weight="bold" text-anchor="middle" >fluorescence</text>
<text x="210.3" y="399.5" font-size="15.4" font-weight="bold" text-anchor="middle" >Ctrl</text>
<text x="308.0" y="399.5" font-size="15.4" font-weight="bold" text-anchor="middle" >ICs</text>
<path d="M108.5,147.0H296.5" stroke="#000" stroke-width="2"/>
<text x="203.5" y="150.5" font-size="18.0" font-weight="normal" text-anchor="middle" >***</text>
<path d="M199.0,165.0H295.5" stroke="#000" stroke-width="2"/>
<text x="246.5" y="168.5" font-size="18.0" font-weight="normal" text-anchor="middle" >***</text>
<path d="M298.5,165.0H335.5" stroke="#000" stroke-width="2"/>
<text x="317.0" y="168.5" font-size="18.0" font-weight="normal" text-anchor="middle" >***</text>
<path d="M277.0,181.8H295.8" stroke="#000" stroke-width="2"/>
<text x="284.3" y="185.3" font-size="18.0" font-weight="normal" text-anchor="middle" >***</text>
<path d="M298.0,181.8H317.5" stroke="#000" stroke-width="2"/>
<text x="309.0" y="185.3" font-size="18.0" font-weight="normal" text-anchor="middle" >***</text>
<rect x="372" y="225.8" width="23" height="11" fill="#00007e" stroke="#3a3ab0" stroke-width="0.8"/>
<text x="408.3" y="237.0" font-size="17.8" font-weight="normal" text-anchor="start" >mDCs</text>
<rect x="372" y="251.0" width="23" height="11" fill="#8e0406" stroke="#c04a4a" stroke-width="0.8"/>
<text x="408.3" y="262.2" font-size="17.8" font-weight="normal" text-anchor="start" >slanDCs</text>
<rect x="372" y="276.2" width="23" height="11" fill="#3b6a22" stroke="#7fa36a" stroke-width="0.8"/>
<text x="408.3" y="287.4" font-size="17.8" font-weight="normal" text-anchor="start" >Monocytes</text>
<rect x="372" y="301.4" width="23" height="11" fill="#560b5a" stroke="#9a5a9c" stroke-width="0.8"/>
<text x="408.3" y="312.6" font-size="17.8" font-weight="normal" text-anchor="start" >pDCs</text>
<text x="-0.9" y="453.2" font-size="26.0" font-weight="bold" text-anchor="start" >B</text>
<text x="145.5" y="459.3" font-size="20.0" font-weight="normal" text-anchor="middle" >slanDCs</text>
<path d="M65.3,486.0 V704.0 H226" stroke="#000" stroke-width="2" fill="none"/>
<path d="M58.2,704.0H65.3M58.2,631.7H65.3M58.2,559.3H65.3M58.2,487.0H65.3M85.5,704.0v6.5M126.5,704.0v6.5M167.5,704.0v6.5M208.5,704.0v6.5" stroke="#000" stroke-width="2" fill="none"/>
<text transform="translate(56.5 709.7) scale(1 1.090)" font-size="15.0" font-weight="bold" text-anchor="end">0</text>
<text transform="translate(56.5 637.4) scale(1 1.090)" font-size="15.0" font-weight="bold" text-anchor="end">200</text>
<text transform="translate(56.5 565.0) scale(1 1.090)" font-size="15.0" font-weight="bold" text-anchor="end">400</text>
<text transform="translate(56.5 492.7) scale(1 1.090)" font-size="15.0" font-weight="bold" text-anchor="end">600</text>
<text x="24.7" y="595.6" font-size="17.5" font-weight="bold" text-anchor="middle" transform="rotate(-90 24.7 595.6)"><tspan font-weight="normal">&#916;</tspan> MFI</text>
<path d="M85.6,533.7V510.1 M78.6,510.1H92.6" stroke="#000" stroke-width="2" fill="none"/>
<rect x="71.1" y="533.7" width="29.0" height="170.3" fill="#000"/>
<path d="M126.5,533.7V510.9 M119.5,510.9H133.5" stroke="#000" stroke-width="2" fill="none"/>
<rect x="112.0" y="533.7" width="29.0" height="170.3" fill="#000"/>
<path d="M167.3,654.1V649.0 M160.3,649.0H174.3" stroke="#000" stroke-width="2" fill="none"/>
<rect x="152.8" y="654.1" width="29.0" height="49.9" fill="#000"/>
<path d="M208.2,610.3V596.9 M201.2,596.9H215.2" stroke="#000" stroke-width="2" fill="none"/>
<rect x="193.7" y="610.3" width="29.0" height="93.7" fill="#000"/>
<path d="M85.0,485.5H208.0" stroke="#000" stroke-width="2"/>
<text x="146.0" y="488.7" font-size="19.0" font-weight="normal" text-anchor="middle" >*</text>
<path d="M85.0,502.5H166.0" stroke="#000" stroke-width="2"/>
<text x="127.4" y="505.2" font-size="19.0" font-weight="normal" text-anchor="middle" >**</text>
<text x="88.7" y="728.7" font-size="16.2" font-weight="bold" text-anchor="end" transform="rotate(-45 88.7 728.7)">ICs</text>
<text x="129.7" y="728.7" font-size="16.2" font-weight="bold" text-anchor="end" transform="rotate(-45 129.7 728.7)">Ctrl mAb</text>
<text x="170.7" y="728.7" font-size="16.2" font-weight="bold" text-anchor="end" transform="rotate(-45 170.7 728.7)">Anti-CD16</text>
<text x="211.7" y="728.7" font-size="16.2" font-weight="bold" text-anchor="end" transform="rotate(-45 211.7 728.7)">Anti-CD32</text>
<text x="263.0" y="453.4" font-size="26.0" font-weight="bold" text-anchor="start" >C</text>
<path d="M345.0,484.7 V702.7 H508.5" stroke="#000" stroke-width="2" fill="none"/>
<path d="M338.2,702.7H345.0M338.2,659.3H345.0M338.2,615.9H345.0M338.2,572.5H345.0M338.2,529.1H345.0M338.2,485.7H345.0M385.0,702.7v6M467.0,702.7v6" stroke="#000" stroke-width="2" fill="none"/>
<text transform="translate(336.5 708.2) scale(1 1.090)" font-size="15.0" font-weight="bold" text-anchor="end">0</text>
<text transform="translate(336.5 664.8) scale(1 1.090)" font-size="15.0" font-weight="bold" text-anchor="end">25</text>
<text transform="translate(336.5 621.4) scale(1 1.090)" font-size="15.0" font-weight="bold" text-anchor="end">50</text>
<text transform="translate(336.5 578.0) scale(1 1.090)" font-size="15.0" font-weight="bold" text-anchor="end">75</text>
<text transform="translate(336.5 534.6) scale(1 1.090)" font-size="15.0" font-weight="bold" text-anchor="end">100</text>
<text transform="translate(336.5 491.2) scale(1 1.090)" font-size="15.0" font-weight="bold" text-anchor="end">125</text>
<text x="278.0" y="594.7" font-size="18.1" font-weight="bold" text-anchor="middle" transform="rotate(-90 278.0 594.7)">% of sample</text>
<text x="298.3" y="594.9" font-size="17.7" font-weight="bold" text-anchor="middle" transform="rotate(-90 298.3 594.9)">without blocking mAb</text>
<path d="M371.2,648.0V642.8 M364.2,642.8H378.2" stroke="#000" stroke-width="2" fill="none"/>
<rect x="357.4" y="648.0" width="27.6" height="54.7" fill="#000"/>
<path d="M399.1,523.9V518.7 M392.1,518.7H406.1" stroke="#000" stroke-width="2" fill="none"/>
<rect x="386.0" y="524.9" width="26.3" height="177.8" fill="#fff" stroke="#000" stroke-width="2"/>
<path d="M452.8,606.4V599.9 M445.8,599.9H459.8" stroke="#000" stroke-width="2" fill="none"/>
<rect x="438.5" y="606.4" width="28.5" height="96.3" fill="#000"/>
<path d="M480.2,687.1V682.7 M473.2,682.7H487.2" stroke="#000" stroke-width="2" fill="none"/>
<rect x="468.0" y="688.1" width="24.5" height="14.6" fill="#fff" stroke="#000" stroke-width="2"/>
<path d="M398.5,496.8H479.5" stroke="#000" stroke-width="2"/>
<text x="438.7" y="502.0" font-size="19.0" font-weight="normal" text-anchor="middle" >***</text>
<path d="M370.8,510.4H452.3" stroke="#000" stroke-width="2"/>
<text x="412.5" y="515.6" font-size="19.0" font-weight="normal" text-anchor="middle" >***</text>
<text x="384.8" y="722.7" font-size="14.8" font-weight="bold" text-anchor="middle" >Anti-CD16</text>
<text x="466.3" y="722.7" font-size="14.8" font-weight="bold" text-anchor="middle" >Anti-CD32</text>
<rect x="361" y="747.8" width="25" height="12" fill="#000"/>
<rect x="361.9" y="773.4" width="23.2" height="11" fill="#fff" stroke="#000" stroke-width="1.8"/>
<text x="398.6" y="759.3" font-size="17.5" font-weight="normal" text-anchor="start" >slanDCs</text>
<text x="398.6" y="784.8" font-size="17.6" font-weight="normal" text-anchor="start" >Monocytes</text>
</svg>
</body></html>
